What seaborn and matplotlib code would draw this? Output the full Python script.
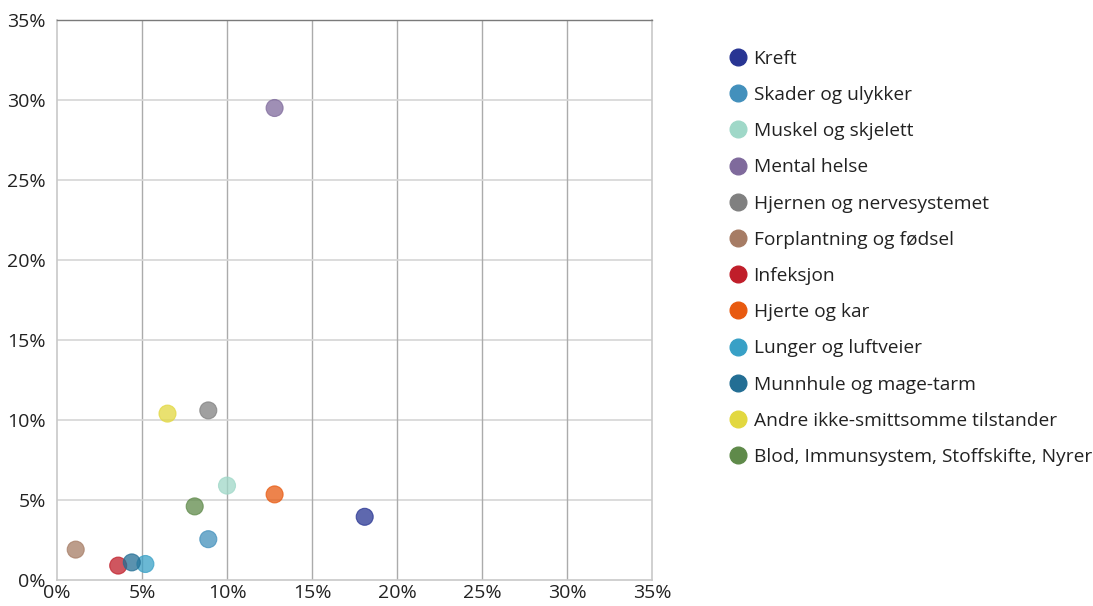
import matplotlib
matplotlib.use("Agg")
import matplotlib.pyplot as plt
from matplotlib.lines import Line2D
from matplotlib.ticker import FuncFormatter, MultipleLocator
import seaborn as sns
import pandas as pd

categories = [
    "Kreft",
    "Skader og ulykker",
    "Muskel og skjelett",
    "Mental helse",
    "Hjernen og nervesystemet",
    "Forplantning og fødsel",
    "Infeksjon",
    "Hjerte og kar",
    "Lunger og luftveier",
    "Munnhule og mage-tarm",
    "Andre ikke-smittsomme tilstander",
    "Blod, Immunsystem, Stoffskifte, Nyrer",
]
x_values = [18.1, 8.9, 10.0, 12.8, 8.9, 1.1, 3.6, 12.8, 5.2, 4.4, 6.5, 8.1]
y_values = [3.95, 2.55, 5.9, 29.5, 10.6, 1.9, 0.9, 5.35, 1.0, 1.1, 10.4, 4.6]
colors = [
    "#283593", "#4390bc", "#9fd8c8", "#7f6a9c", "#808080", "#a67c65",
    "#c01e2a", "#e85a10", "#38a0c6", "#236e94", "#e2d840", "#5f8a4a",
]

df = pd.DataFrame({"kategori": categories, "x": x_values, "y": y_values})
palette = dict(zip(categories, colors))

sns.set_theme(style="white")
plt.rcParams["font.family"] = ["Open Sans", "DejaVu Sans"]

fig = plt.figure(figsize=(10.93, 6.06), dpi=100)
ax = fig.add_axes([57 / 1093, 1 - 580 / 606, 595 / 1093, 560 / 606])

sns.scatterplot(
    data=df, x="x", y="y", hue="kategori", palette=palette,
    s=150, alpha=0.75, edgecolor="face", linewidth=0.8,
    legend=False, ax=ax, zorder=3,
)

ax.set_xlim(0, 35)
ax.set_ylim(0, 35)
ax.xaxis.set_major_locator(MultipleLocator(5))
ax.yaxis.set_major_locator(MultipleLocator(5))
pct = FuncFormatter(lambda v, _: f"{v:.0f}%")
ax.xaxis.set_major_formatter(pct)
ax.yaxis.set_major_formatter(pct)
ax.set_xlabel("")
ax.set_ylabel("")

# Gridlines: vertical a bit darker than horizontal
for v in range(5, 35, 5):
    ax.axvline(v, color="#ababab", linewidth=1.0, zorder=1)
    ax.axhline(v, color="#d6d6d6", linewidth=1.2, zorder=1)

for side in ("left", "bottom", "right"):
    ax.spines[side].set_visible(True)
    ax.spines[side].set_color("#c8c8c8")
    ax.spines[side].set_linewidth(1.2)
ax.spines["top"].set_visible(True)
ax.spines["top"].set_color("#7a7a7a")
ax.spines["top"].set_linewidth(1.0)

ax.tick_params(axis="both", length=0, labelsize=14, colors="#222222")
ax.tick_params(axis="x", pad=3)
ax.tick_params(axis="y", pad=8)

handles = [
    Line2D([], [], marker="o", linestyle="", markersize=12,
           markerfacecolor=c, markeredgecolor=c)
    for c in colors
]
fig.legend(
    handles, categories, loc="upper left",
    bbox_to_anchor=(720 / 1093, 1 - 42 / 606),
    frameon=False, fontsize=13.8, labelspacing=0.95,
    handletextpad=0.25, handlelength=1.1, borderaxespad=0,
    labelcolor="#222222",
)

fig.savefig("out.png", dpi=100)
